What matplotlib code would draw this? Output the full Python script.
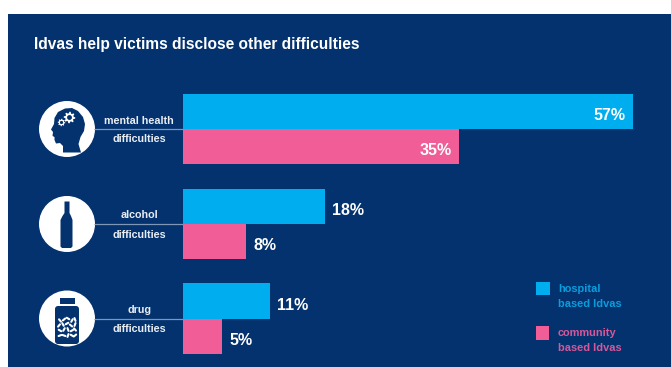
import matplotlib
matplotlib.use("Agg")
import matplotlib.pyplot as plt
from matplotlib.patches import Circle, Rectangle, Polygon, FancyBboxPatch
import numpy as np

plt.rcParams['font.family'] = ['Liberation Sans', 'DejaVu Sans']

# Survey results, share of victims disclosing each difficulty
categories = [("mental health", "difficulties"), ("alcohol", "difficulties"), ("drug", "difficulties")]
hospital = [57, 18, 11]
community = [35, 8, 5]
legend_labels = [("hospital", "based Idvas"), ("community", "based Idvas")]
title = "Idvas help victims disclose other difficulties"

NAVY = "#03326f"
BLUE = "#00aeef"
PINK = "#f15d97"
W, H = 671, 367

fig = plt.figure(figsize=(W / 100, H / 100), dpi=100, facecolor="white")

# Overlay in pixel coordinates for the panel, icons and captions
bg = fig.add_axes([0, 0, 1, 1])
bg.set_xlim(0, W)
bg.set_ylim(H, 0)
bg.axis("off")
bg.add_patch(Rectangle((8, 14), W - 8, H - 14.5, fc=NAVY, ec="none"))

# Bar axes: one unit on y is one group, x is percent
left, right = 183, 633
group_y = [129, 224, 318.5]
step = group_y[1] - group_y[0]
top = group_y[0] - step / 2
bottom = group_y[2] + step / 2
ax = fig.add_axes([left / W, 1 - bottom / H, (right - left) / W, (bottom - top) / H])
ax.patch.set_alpha(0)
ax.set_xlim(0, 57)
ax.set_ylim(2.5, -0.5)
ax.axis("off")
ypos = np.arange(len(categories))
bar_h = 35.3 / step
ax.barh(ypos - bar_h / 2, hospital, height=bar_h, color=BLUE, linewidth=0)
ax.barh(ypos + bar_h / 2, community, height=bar_h, color=PINK, linewidth=0)

for i, (h, c) in enumerate(zip(hospital, community)):
    for val, yy in ((h, i - bar_h / 2), (c, i + bar_h / 2)):
        inside = val > 30
        ax.annotate(f"{val}%", (val, yy), xytext=(-5.5 if inside else 5, -3),
                    textcoords="offset points", ha="right" if inside else "left",
                    va="center", color="white", fontsize=11.5, fontweight="bold")

bg.text(34, 45, title, color="white", fontsize=11.2, fontweight="bold", va="center", ha="left")

# Connectors and two-line captions
for (l1, l2), y in zip(categories, group_y):
    bg.plot([94, 183], [y, y], color="#7f97b7", lw=0.9, solid_capstyle="butt")
    bg.text(139, y - 8.5, l1, color="#e8edf3", fontsize=7.75, fontweight="bold", ha="center", va="center")
    bg.text(139, y + 10.5, l2, color="#e8edf3", fontsize=7.75, fontweight="bold", ha="center", va="center")
    bg.add_patch(Circle((67, y), 28, fc="white", ec="none"))


def gear(cx, cy, r, teeth=8):
    ang = np.linspace(0, 2 * np.pi, teeth * 4, endpoint=False)
    rad = np.where(np.arange(teeth * 4) % 4 < 2, r, r * 0.72)
    bg.add_patch(Polygon(np.c_[cx + rad * np.cos(ang), cy + rad * np.sin(ang)], fc="white", ec="none"))
    bg.add_patch(Circle((cx, cy), r * 0.42, fc=NAVY, ec="none"))


# Head in profile with two gears
head = [(81, 152.5), (63, 152.5), (63, 146), (60, 143), (56, 143.5), (54.5, 140), (54.5, 137),
        (52.5, 136), (53, 132), (51, 129.5), (54, 124), (54.5, 118), (58, 112), (65, 108.5),
        (72, 108), (78, 111), (83, 117), (85, 124), (84, 131), (80.5, 137), (78.5, 144)]
bg.add_patch(Polygon(head, fc=NAVY, ec="none"))
gear(69.5, 117.5, 5.8)
gear(61.5, 122.5, 3.8)

# Wine bottle
cy = group_y[1]
bottle = [(64.5, cy - 22.5), (69.5, cy - 22.5), (69.5, cy - 11), (71, cy - 8), (72.5, cy - 4),
          (72.5, cy + 22.5), (71, cy + 24), (62, cy + 24), (60.5, cy + 22.5), (60.5, cy - 4),
          (62.5, cy - 8), (64.5, cy - 11)]
bg.add_patch(Polygon(bottle, fc=NAVY, ec="none"))

# Pill jar
cy = group_y[2]
bg.add_patch(Rectangle((60, cy - 21), 15, 6.5, fc=NAVY, ec="none"))
bg.add_patch(FancyBboxPatch((57.5, cy - 10), 19, 33, boxstyle="round,pad=2.5,rounding_size=3", fc=NAVY, ec="none"))
pills = [(-7, 2, 50), (-3, 1, -40), (1, 0, 30), (5, 2, -60), (8, 1, 70),
         (-8, 7, -50), (-4, 6, 60), (0, 5, -30), (4, 7, 40), (8, 6, -70),
         (-7, 12, 30), (-3, 11, -60), (1, 11, 70), (5, 12, -30), (8, 11, 50),
         (-7, 17, -20), (-3, 17, 20), (1, 17, -70), (5, 17, 30), (8, 17, -40)]
for dx, dy, a in pills:
    t = np.deg2rad(a)
    x0, y0 = 67 + dx, cy + dy
    bg.plot([x0 - 1.5 * np.cos(t), x0 + 1.5 * np.cos(t)], [y0 - 1.5 * np.sin(t), y0 + 1.5 * np.sin(t)],
            color="white", lw=1.5, solid_capstyle="round")

# Legend
for (l1, l2), sy, col, tx, yy, tcol in zip(legend_labels, (288.5, 333), (BLUE, PINK), (558.5, 558),
                                          (288.5, 332.5), ("#0a9ddd", "#d5589a")):
    bg.add_patch(Rectangle((tx - 22.5, sy - 7), 13.5, 13.5, fc=col, ec="none"))
    bg.text(tx, yy, l1, color=tcol, fontsize=7.9, fontweight="bold", va="center", ha="left")
    bg.text(tx, yy + 15.5, l2, color=tcol, fontsize=7.9, fontweight="bold", va="center", ha="left")

fig.savefig("out.png", dpi=100, facecolor="white")
